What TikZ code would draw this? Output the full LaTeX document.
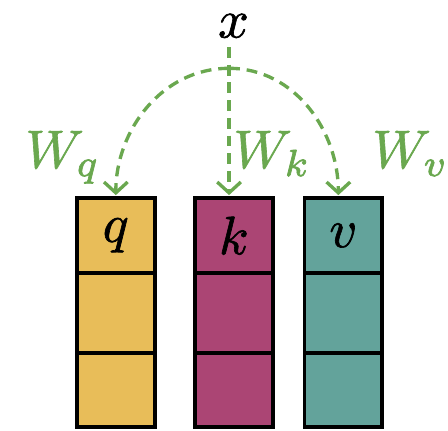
\documentclass[tikz,border=0pt]{standalone}
\usepackage{amsmath}
\usepackage{graphicx}
\usepackage{tikz}
\usetikzlibrary{positioning,arrows.meta}
\definecolor{qyellow}{RGB}{232,189,89}
\definecolor{kpurple}{RGB}{171,69,116}
\definecolor{vteal}{RGB}{99,163,155}
\definecolor{wgreen}{RGB}{106,168,79}
% scaled math with a slightly heavier stroke
\newcommand{\bigsym}[1]{\scalebox{2.75}{\special{pdf:literal direct 2 Tr 0.12 w}$#1$\special{pdf:literal direct 0 Tr}}}

\begin{document}
\begin{tikzpicture}[
  cell/.style={draw=black,line width=2pt,minimum width=1.39cm,minimum height=1.334cm,inner sep=0pt,outer sep=0pt},
  proj/.style={wgreen,line width=1.7pt,dash pattern=on 5.5pt off 3.5pt,-{Straight Barb[length=5.5pt,width=12pt]}},
  wlabel/.style={wgreen,anchor=base west,inner sep=0pt}]
\useasboundingbox (0,0) rectangle (8,7.68);
% columns
\node[cell,fill=qyellow] (q1) at (2.068,3.476) {\bigsym{q}};
\node[cell,fill=qyellow,minimum height=1.429cm,below=0pt of q1] (q2) {};
\node[cell,fill=qyellow,minimum height=1.321cm,below=0pt of q2] (q3) {};
\node[cell,fill=kpurple] (k1) at (4.177,3.476) {\bigsym{k}};
\node[cell,fill=kpurple,minimum height=1.429cm,below=0pt of k1] (k2) {};
\node[cell,fill=kpurple,minimum height=1.321cm,below=0pt of k2] (k3) {};
\node[cell,fill=vteal] (v1) at (6.132,3.476) {\bigsym{v}};
\node[cell,fill=vteal,minimum height=1.429cm,below=0pt of v1] (v2) {};
\node[cell,fill=vteal,minimum height=1.321cm,below=0pt of v2] (v3) {};
% input
\node[anchor=base,inner sep=0pt] (x) at (4.17,7.01) {\bigsym{x}};
\coordinate (top) at (4.09,6.84);
\coordinate (split) at (4.09,6.46);
\draw[proj,shorten >=1.5pt] (top) -- (split |- k1.north);
\draw[proj,shorten >=1.5pt] (split) to[out=180,in=90] (q1.north);
\draw[proj,shorten >=1.5pt] (split) to[out=0,in=90] ([xshift=-0.09cm]v1.north);
% weights
\node[wlabel] (wq) at (0.446,4.68) {\bigsym{W_q}};
\node[wlabel] (wk) at (4.16,4.68) {\bigsym{W_k}};
\node[wlabel] (wv) at (6.64,4.68) {\bigsym{W_v}};
\end{tikzpicture}
\end{document}
